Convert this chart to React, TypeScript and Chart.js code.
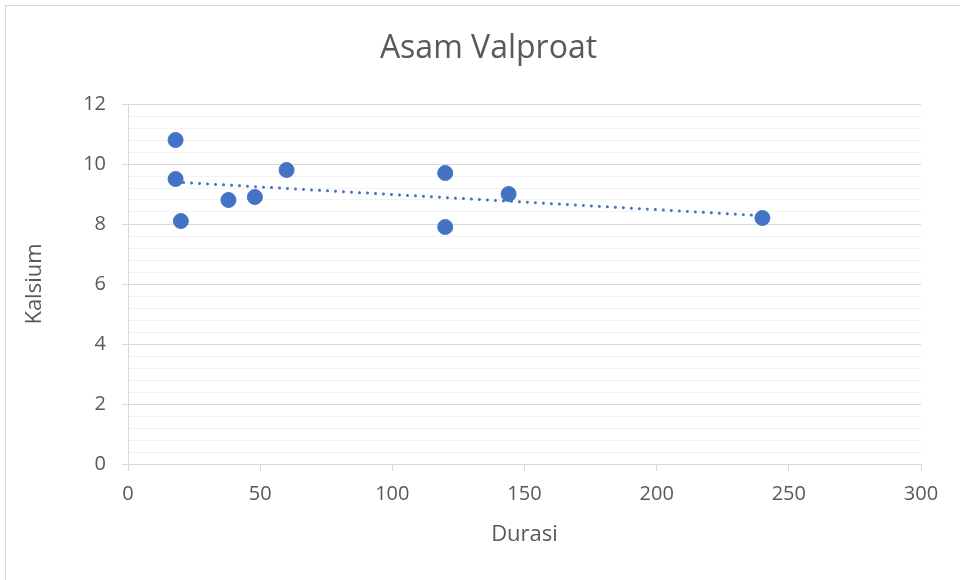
import React, { useEffect, useRef } from "react";
import { Chart, registerables } from "chart.js";

Chart.register(...registerables);

// ---- data ----
const chartTitle = "Asam Valproat";
const xAxisTitle = "Durasi";
const yAxisTitle = "Kalsium";
const durasi = [18, 18, 20, 38, 48, 60, 120, 120, 144, 240];
const kalsium = [10.8, 9.5, 8.1, 8.8, 8.9, 9.8, 9.7, 7.9, 9.0, 8.2];
const xMin = 0;
const xMax = 300;
const xStep = 50;
const yMin = 0;
const yMax = 12;
const yMajorStep = 2;
const yMinorStep = 0.4;

// linear least-squares trendline (like Excel's linear trendline)
function linearFit(xs: number[], ys: number[]) {
  const n = xs.length;
  const mx = xs.reduce((a, b) => a + b, 0) / n;
  const my = ys.reduce((a, b) => a + b, 0) / n;
  let sxy = 0;
  let sxx = 0;
  for (let i = 0; i < n; i++) {
    sxy += (xs[i] - mx) * (ys[i] - my);
    sxx += (xs[i] - mx) * (xs[i] - mx);
  }
  const slope = sxy / sxx;
  const intercept = my - slope * mx;
  return { slope, intercept };
}

const FONT = '"Open Sans", "DejaVu Sans", sans-serif';
const TEXT = "#595959";
const MAJOR = "#d9d9d9";
const MINOR = "#f2f2f2";
const BLUE = "#4472C4";

const isMajor = (v: number) =>
  Math.abs(v / yMajorStep - Math.round(v / yMajorStep)) < 1e-6;

export default function App() {
  const ref = useRef<HTMLCanvasElement | null>(null);

  useEffect(() => {
    let chart: Chart | null = null;
    let cancelled = false;

    const build = () => {
      if (cancelled || !ref.current) return;
      const { slope, intercept } = linearFit(durasi, kalsium);
      const x0 = Math.min(...durasi);
      const x1 = Math.max(...durasi);
      const points = durasi.map((x, i) => ({ x, y: kalsium[i] }));
      const trend = [
        { x: x0, y: intercept + slope * x0 },
        { x: x1, y: intercept + slope * x1 },
      ];

      chart = new Chart(ref.current, {
        type: "scatter",
        data: {
          datasets: [
            {
              type: "line",
              label: "Trend",
              data: trend,
              borderColor: BLUE,
              borderWidth: 3,
              borderDash: [0.01, 8],
              borderCapStyle: "round",
              pointRadius: 0,
              fill: false,
              order: 0,
            } as any,
            {
              label: yAxisTitle,
              data: points,
              backgroundColor: BLUE,
              borderColor: BLUE,
              pointRadius: 7.5,
              pointBorderWidth: 1,
              order: 1,
            },
          ],
        },
        options: {
          responsive: false,
          animation: false,
          devicePixelRatio: 1,
          layout: { padding: { left: 56, right: 39, top: 0, bottom: 0 } },
          plugins: {
            legend: { display: false },
            tooltip: { enabled: false },
            title: {
              display: true,
              text: chartTitle,
              color: TEXT,
              font: { family: FONT, size: 32, weight: "normal" },
              padding: { top: 30, bottom: 35.6 },
            },
          },
          scales: {
            x: {
              type: "linear",
              min: xMin,
              max: xMax,
              ticks: {
                stepSize: xStep,
                color: TEXT,
                font: { family: FONT, size: 20 },
                padding: 11,
                maxRotation: 0,
                autoSkip: false,
              },
              grid: {
                drawOnChartArea: false,
                drawTicks: true,
                tickLength: 7,
                tickColor: MAJOR,
              },
              border: { display: true, color: MAJOR, width: 1 },
              title: {
                display: true,
                text: xAxisTitle,
                color: TEXT,
                font: { family: FONT, size: 22 },
                padding: { top: 0, bottom: 32 },
              },
              afterFit: (s: any) => {
                s.height = 116;
              },
            },
            y: {
              type: "linear",
              min: yMin,
              max: yMax,
              ticks: {
                stepSize: yMinorStep,
                autoSkip: false,
                color: TEXT,
                font: { family: FONT, size: 20 },
                padding: 16,
                callback: (v: any) =>
                  isMajor(Number(v)) ? String(Math.round(Number(v))) : "",
              },
              grid: {
                color: (ctx: any) =>
                  ctx.tick && isMajor(ctx.tick.value) ? MAJOR : MINOR,
                tickColor: (ctx: any) =>
                  ctx.tick && isMajor(ctx.tick.value) ? MAJOR : "rgba(0,0,0,0)",
                tickLength: 6,
                lineWidth: 1,
              },
              border: { display: true, color: MAJOR, width: 1 },
              title: {
                display: true,
                text: yAxisTitle,
                color: TEXT,
                font: { family: FONT, size: 22 },
                padding: { top: -34, bottom: 0 },
              },
              afterFit: (s: any) => {
                s.width = 72;
              },
            },
          },
        },
      });
    };

    if ((document as any).fonts && (document as any).fonts.load) {
      Promise.all([
        (document as any).fonts.load('20px "Open Sans"'),
        (document as any).fonts.load('32px "Open Sans"'),
      ])
        .catch(() => null)
        .then(build);
    } else {
      build();
    }

    return () => {
      cancelled = true;
      if (chart) chart.destroy();
    };
  }, []);

  return (
    <div
      style={{
        position: "absolute",
        left: 0,
        top: 0,
        width: 960,
        height: 580,
        overflow: "hidden",
        background: "#ffffff",
      }}
    >
      <div
        style={{
          position: "absolute",
          left: 5,
          top: 5,
          width: 1000,
          height: 1000,
          border: "1px solid #d9d9d9",
          boxSizing: "border-box",
        }}
      />
      <canvas
        ref={ref}
        width={960}
        height={580}
        style={{ position: "absolute", left: 0, top: 0, display: "block" }}
      />
    </div>
  );
}
